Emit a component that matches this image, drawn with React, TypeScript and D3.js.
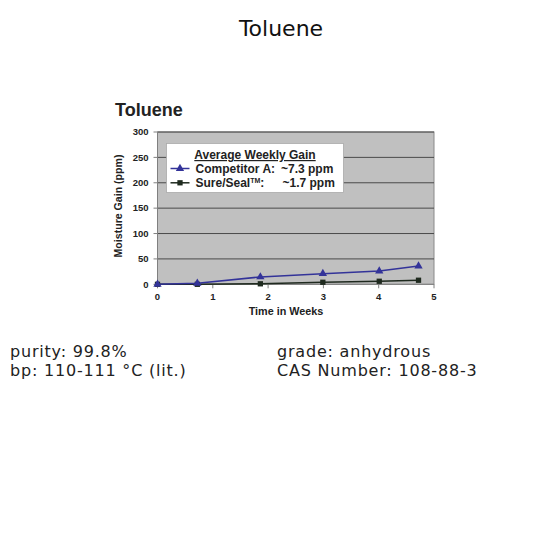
import React from "react";
import * as d3 from "d3";

const weeks = [0, 0.72, 1.86, 2.99, 4.01, 4.72];
const competitorA = [0, 2, 14.5, 21, 26, 36];
const sureSeal = [0, 0, 1, 4, 6, 8];
const yTicks = [0, 50, 100, 150, 200, 250, 300];
const xTicks = [0, 1, 2, 3, 4, 5];
const legendTitle = "Average Weekly Gain";
const legendRows = [
  { name: "Competitor A:", value: "~7.3 ppm" },
  { name: "Sure/Seal", value: "~1.7 ppm" },
];
const infoLeft = ["purity: 99.8%", "bp: 110-111 °C (lit.)"];
const infoRight = ["grade: anhydrous", "CAS Number: 108-88-3"];

const COMP = "#333399";
const SURE = "#1f2a1f";
const ARIAL = "'Liberation Sans', Arial, sans-serif";
const DEJAVU = "'DejaVu Sans', sans-serif";

export default function App() {
  const x = d3.scaleLinear().domain([0, 5]).range([157.5, 434]);
  const y = d3.scaleLinear().domain([0, 300]).range([284.3, 132]);
  const line = d3
    .line<[number, number]>()
    .x((d) => x(d[0]))
    .y((d) => y(d[1]));
  const compPts: [number, number][] = weeks.map((w, i) => [w, competitorA[i]]);
  const surePts: [number, number][] = weeks.map((w, i) => [w, sureSeal[i]]);
  const tri = d3.symbol().type(d3.symbolTriangle).size(30)();
  const sq = d3.symbol().type(d3.symbolSquare).size(28)();

  return (
    <div style={{ position: "absolute", left: 0, top: 0 }}>
      <svg width={553} height={553} style={{ display: "block", background: "#fff" }}>
        <text x={281} y={36} textAnchor="middle" fontFamily={DEJAVU} fontSize={22} fill="#111">
          Toluene
        </text>

        <text x={115} y={116} fontFamily={ARIAL} fontWeight="bold" fontSize={18} fill="#222">
          Toluene
        </text>

        {/* plot area */}
        <rect x={x(0)} y={y(300)} width={x(5) - x(0)} height={y(0) - y(300)} fill="#c0c0c0" stroke="#8a8a8a" strokeWidth={1} />
        {yTicks.slice(1).map((t) => (
          <line key={"g" + t} x1={x(0)} x2={x(5)} y1={y(t)} y2={y(t)} stroke="#4a4a4a" strokeWidth={1} />
        ))}
        {/* y axis */}
        <line x1={x(0)} x2={x(0)} y1={y(300)} y2={y(0)} stroke="#808080" />
        {yTicks.map((t) => (
          <g key={"yt" + t}>
            <line x1={x(0) - 4} x2={x(0)} y1={y(t)} y2={y(t)} stroke="#808080" />
            <text x={148.5} y={y(t)} dy="0.35em" textAnchor="end" fontFamily={ARIAL} fontWeight="bold" fontSize={9.5} fill="#222">
              {t}
            </text>
          </g>
        ))}
        {/* x axis */}
        <line x1={x(0)} x2={x(5)} y1={y(0)} y2={y(0)} stroke="#808080" />
        {xTicks.map((t) => (
          <g key={"xt" + t}>
            <line x1={x(t)} x2={x(t)} y1={y(0)} y2={y(0) + 4} stroke="#808080" />
            <text x={x(t)} y={300} textAnchor="middle" fontFamily={ARIAL} fontWeight="bold" fontSize={9.5} fill="#222">
              {t}
            </text>
          </g>
        ))}
        <text x={286} y={315} textAnchor="middle" fontFamily={ARIAL} fontWeight="bold" fontSize={10.8} fill="#222">
          Time in Weeks
        </text>
        <text
          transform="translate(122,206) rotate(-90)"
          textAnchor="middle"
          fontFamily={ARIAL}
          fontWeight="bold"
          fontSize={10.6}
          fill="#222"
        >
          Moisture Gain (ppm)
        </text>

        {/* series */}
        <path d={line(surePts) || ""} fill="none" stroke={SURE} strokeWidth={1.5} />
        <path d={line(compPts) || ""} fill="none" stroke={COMP} strokeWidth={1.5} />
        {surePts.map((p, i) => (
          <path key={"s" + i} d={sq || ""} transform={`translate(${x(p[0])},${y(p[1])})`} fill={SURE} />
        ))}
        {compPts.map((p, i) => (
          <path key={"c" + i} d={tri || ""} transform={`translate(${x(p[0])},${y(p[1])})`} fill={COMP} />
        ))}

        {/* legend */}
        <rect x={166.5} y={143.5} width={177} height={49} fill="#fff" stroke="#aaa" strokeWidth={0.8} />
        <text x={255} y={159} textAnchor="middle" fontFamily={ARIAL} fontWeight="bold" fontSize={12} fill="#222" textDecoration="underline">
          {legendTitle}
        </text>
        {legendRows.map((r, i) => {
          const cy = 168.5 + i * 14.3;
          const col = i === 0 ? COMP : SURE;
          return (
            <g key={"l" + i}>
              <line x1={170.5} x2={189.5} y1={cy} y2={cy} stroke={col} strokeWidth={1.5} />
              <path d={(i === 0 ? tri : sq) || ""} transform={`translate(180,${cy})`} fill={col} />
              <text x={195.5} y={cy + 4.2} fontFamily={ARIAL} fontWeight="bold" fontSize={12} fill="#222">
                {r.name}
                {i === 1 ? (
                  <>
                    <tspan fontSize={7} dy={-4.5}>TM</tspan>
                    <tspan dy={4.5}>:</tspan>
                  </>
                ) : null}
              </text>
              <text x={i === 0 ? 281 : 282.5} y={cy + 4.2} fontFamily={ARIAL} fontWeight="bold" fontSize={12} fill="#222">
                {r.value}
              </text>
            </g>
          );
        })}

        {/* info text */}
        {infoLeft.map((t, i) => (
          <text key={"il" + i} x={10} y={356.5 + i * 19} fontFamily={DEJAVU} fontSize={16} letterSpacing={0.8} fill="#222">
            {t}
          </text>
        ))}
        {infoRight.map((t, i) => (
          <text key={"ir" + i} x={277} y={356.5 + i * 19} fontFamily={DEJAVU} fontSize={16} letterSpacing={0.8} fill="#222">
            {t}
          </text>
        ))}
      </svg>
    </div>
  );
}
